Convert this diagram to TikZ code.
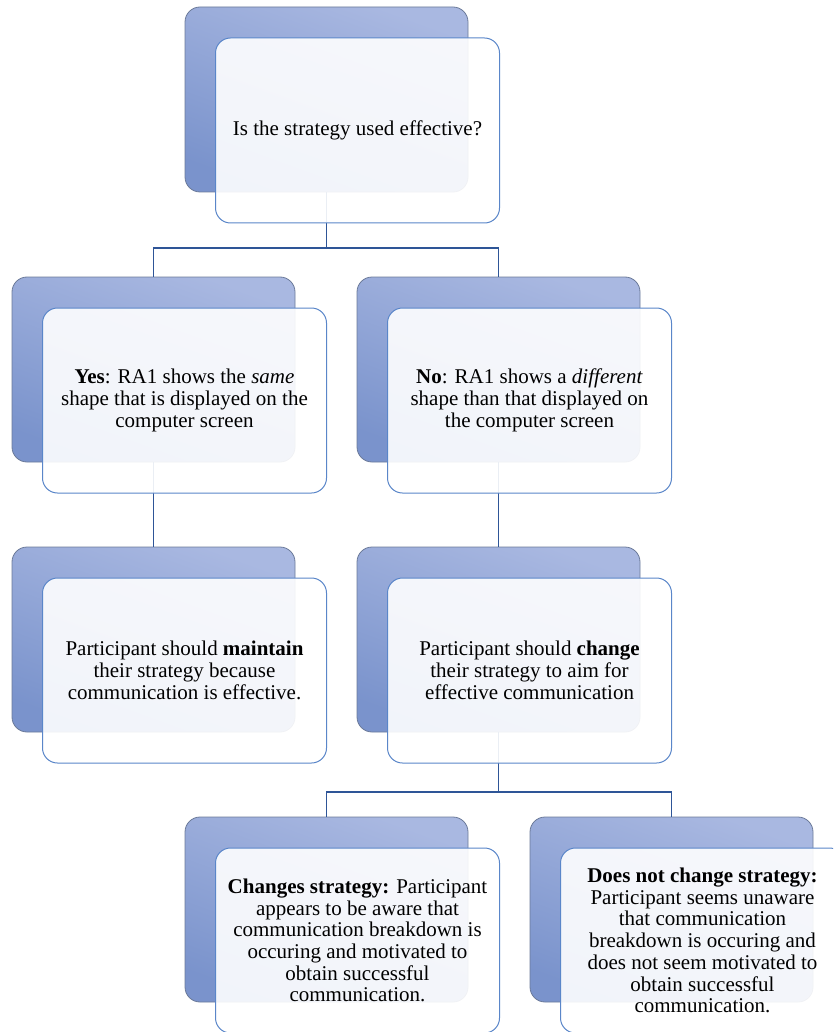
\documentclass[tikz,border=0pt]{standalone}
\usepackage{fontspec}
\setmainfont{Liberation Serif}
\definecolor{backtop}{HTML}{A9B8E1}
\definecolor{backbot}{HTML}{7A93CC}
\definecolor{backline}{HTML}{6B7A99}
\definecolor{frontline}{HTML}{5A86C9}
\definecolor{connc}{HTML}{2E5597}
\begin{document}
\begin{tikzpicture}[x=1pt,y=-1pt,
  backbox/.style={draw=backline, line width=0.8pt, rounded corners=15pt,
    top color=backtop, bottom color=backbot, shading angle=-20,
    minimum width=283pt, minimum height=185pt, inner sep=0pt},
  frontbox/.style={draw=frontline, line width=1pt, rounded corners=15pt,
    fill=white, fill opacity=0.9, text opacity=1,
    minimum width=284pt, minimum height=185pt, inner sep=0pt,
    align=center, font=\fontsize{21pt}{21.7pt}\selectfont},
  conn/.style={draw=connc, line width=1.6pt}]
\useasboundingbox (0,0) rectangle (833,1032);
\clip (0,0) rectangle (833,1032);
% back boxes
\node[backbox] (b1)  at (326.5,99.5) {};
\node[backbox] (b2a) at (153.5,369.5) {};
\node[backbox] (b2b) at (498.5,369.5) {};
\node[backbox] (b3a) at (153.5,639.5) {};
\node[backbox] (b3b) at (498.5,639.5) {};
\node[backbox] (b4a) at (326.5,909.5) {};
\node[backbox] (b4b) at (671.5,909.5) {};
% connectors
\coordinate (j1) at (326.5,248);
\coordinate (j2) at (498.5,792);
\draw[conn] (b1.south) -- (j1) -| (b2a.north);
\draw[conn] (j1) -| (b2b.north);
\draw[conn] (b2a.south) -- (b3a.north);
\draw[conn] (b2b.south) -- (b3b.north);
\draw[conn] (b3b.south) -- (j2) -| (b4a.north);
\draw[conn] (j2) -| (b4b.north);
% front boxes
\node[frontbox] (f1)  at (357.5,130.5) {Is the strategy used effective?};
\node[frontbox] (f2a) at (184.5,400.5) {\textbf{Yes}: RA1 shows the \textit{same}\\shape that is displayed on the\\computer screen};
\node[frontbox] (f2b) at (529.5,400.5) {\textbf{No}: RA1 shows a \textit{different}\\shape than that displayed on\\the computer screen};
\node[frontbox] (f3a) at (184.5,670.5) {Participant should \textbf{maintain}\\their strategy because\\communication is effective.};
\node[frontbox] (f3b) at (529.5,670.5) {Participant should \textbf{change}\\their strategy to aim for\\effective communication};
\node[frontbox] (f4a) at (357.5,940.5) {\textbf{Changes strategy:} Participant\\appears to be aware that\\communication breakdown is\\occuring and motivated to\\obtain successful\\communication.};
\node[frontbox] (f4b) at (702.5,940.5) {\textbf{Does not change strategy:}\\Participant seems unaware\\that communication\\breakdown is occuring and\\does not seem motivated to\\obtain successful\\communication.};
\end{tikzpicture}
\end{document}
